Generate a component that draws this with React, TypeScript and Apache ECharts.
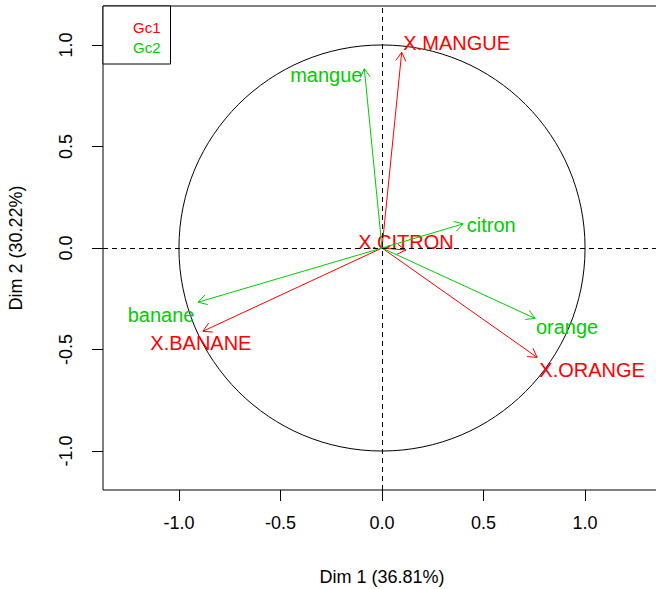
import React, { useEffect, useRef } from 'react';
import * as echarts from 'echarts';

// ---- data ----
const groupNames = ['Gc1', 'Gc2'];

const gc1Labels = ['X.MANGUE', 'X.CITRON', 'X.BANANE', 'X.ORANGE'];
const gc1Dim1 = [0.097, 0.118, -0.882, 0.764];
const gc1Dim2 = [0.964, -0.01, -0.41, -0.539];

const gc2Labels = ['mangue', 'citron', 'banane', 'orange'];
const gc2Dim1 = [-0.087, 0.4, -0.906, 0.754];
const gc2Dim2 = [0.883, 0.119, -0.267, -0.347];

const tickValues = [-1, -0.5, 0, 0.5, 1];
const xTitle = 'Dim 1 (36.81%)';
const yTitle = 'Dim 2 (30.22%)';

// ---- styles ----
const FONT = '"Liberation Sans", Arial, sans-serif';
const RED = '#FF0000';
const GREEN = '#00CD00';
// label pixel offsets from arrow tips (as placed in the reference)
const gc1Offsets = [[55, -9], [0, -8], [-2, 12], [55, 13]];
const gc2Offsets = [[-38, 6], [28, 1], [-37, 13], [32, 9]];

function arrowSeries(name: string, color: string, labels: string[], xs: number[], ys: number[], offsets: number[][]) {
  return {
    type: 'custom',
    name,
    coordinateSystem: 'cartesian2d',
    clip: false,
    data: xs.map((x, i) => [x, ys[i], i]),
    encode: { x: 0, y: 1 },
    renderItem: (_params: any, api: any) => {
      const i = api.value(2);
      const o = api.coord([0, 0]);
      const t = api.coord([api.value(0), api.value(1)]);
      const dx = t[0] - o[0];
      const dy = t[1] - o[1];
      const len = Math.hypot(dx, dy) || 1;
      const ux = dx / len;
      const uy = dy / len;
      const L = 10;
      const a = Math.PI / 6;
      const c = Math.cos(a);
      const s = Math.sin(a);
      const w1 = [t[0] - L * (ux * c - uy * s), t[1] - L * (uy * c + ux * s)];
      const w2 = [t[0] - L * (ux * c + uy * s), t[1] - L * (uy * c - ux * s)];
      return {
        type: 'group',
        children: [
          { type: 'line', shape: { x1: o[0], y1: o[1], x2: t[0], y2: t[1] }, style: { stroke: color, lineWidth: 1 } },
          { type: 'polyline', shape: { points: [w1, t, w2] }, style: { stroke: color, fill: 'none', lineWidth: 1 } },
          {
            type: 'text',
            style: {
              text: labels[i],
              x: t[0] + offsets[i][0],
              y: t[1] + offsets[i][1],
              fill: color,
              font: `20px ${FONT}`,
              align: 'center',
              verticalAlign: 'middle',
            },
          },
        ],
      };
    },
  };
}

export default function App() {
  const ref = useRef<HTMLDivElement>(null);
  useEffect(() => {
    if (!ref.current) return;
    const chart = echarts.init(ref.current, undefined, { renderer: 'svg' });
    const axisCommon = {
      type: 'value',
      splitLine: { show: false },
      axisLine: { show: false, onZero: false },
      axisTick: { show: true, inside: false, length: 11, customValues: tickValues, lineStyle: { color: '#000', width: 1 } },
      nameLocation: 'middle',
      nameTextStyle: { fontSize: 18, color: '#000', fontFamily: FONT },
    };
    chart.setOption({
      animation: false,
      backgroundColor: '#fff',
      grid: {
        left: 103, right: -5, top: 6, bottom: 99,
        show: true, borderColor: '#000', borderWidth: 1,
        containLabel: false, outerBoundsMode: 'none',
      },
      xAxis: {
        ...axisCommon,
        position: 'bottom',
        min: -1.374, max: 1.374,
        name: xTitle, nameGap: 78,
        axisLabel: {
          customValues: tickValues, formatter: (v: number) => v.toFixed(1),
          fontSize: 18, color: '#000', fontFamily: FONT, margin: 24,
        },
      },
      yAxis: {
        ...axisCommon,
        position: 'left',
        min: -1.192, max: 1.192,
        name: yTitle, nameGap: 78, nameRotate: 90,
        axisLabel: {
          customValues: tickValues, formatter: (v: number) => v.toFixed(1),
          fontSize: 18, color: '#000', fontFamily: FONT, margin: 28, rotate: 90,
        },
      },
      legend: {
        orient: 'vertical', left: 103, top: 6,
        data: [
          { name: groupNames[0], textStyle: { color: RED } },
          { name: groupNames[1], textStyle: { color: GREEN } },
        ],
        icon: 'rect', itemWidth: 13, itemHeight: 15, itemGap: 5,
        itemStyle: { opacity: 0 },
        textStyle: { fontSize: 15, fontFamily: FONT },
        borderColor: '#000', borderWidth: 1, padding: [14, 10, 9, 12],
        backgroundColor: '#fff', selectedMode: false,
      },
      series: [
        {
          type: 'custom',
          name: 'circle',
          coordinateSystem: 'cartesian2d',
          clip: false,
          data: [[0, 0]],
          renderItem: (_p: any, api: any) => {
            const c = api.coord([0, 0]);
            const sz = api.size([1, 1]);
            return {
              type: 'ellipse',
              shape: { cx: c[0], cy: c[1], rx: sz[0], ry: sz[1] },
              style: { stroke: '#000', fill: 'none', lineWidth: 1 },
            };
          },
          markLine: {
            silent: true,
            symbol: ['none', 'none'],
            label: { show: false },
            lineStyle: { color: '#000', type: [5, 4], width: 1 },
            data: [{ xAxis: 0 }, { yAxis: 0 }],
          },
        },
        arrowSeries(groupNames[0], RED, gc1Labels, gc1Dim1, gc1Dim2, gc1Offsets),
        arrowSeries(groupNames[1], GREEN, gc2Labels, gc2Dim1, gc2Dim2, gc2Offsets),
      ],
    });
    return () => chart.dispose();
  }, []);
  return <div ref={ref} style={{ width: 656, height: 589, position: 'absolute', left: 0, top: 0 }} />;
}
